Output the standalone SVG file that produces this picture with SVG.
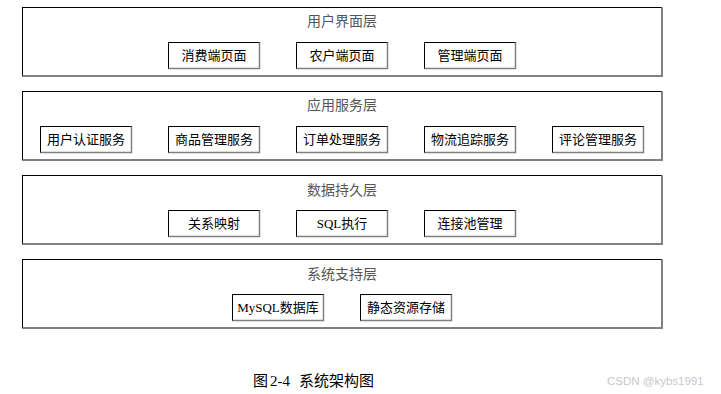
<svg xmlns="http://www.w3.org/2000/svg" width="721" height="394" viewBox="0 0 721 394">
<style>
.layer{fill:#fff;stroke:#000;stroke-width:1}
.shadow{fill:none;stroke:#808080;stroke-width:2}
.box{fill:#fff;stroke:#000;stroke-width:1}
.bshadow{fill:none;stroke:#808080;stroke-width:1.5}
.title{font-family:"Liberation Serif","Noto Sans CJK SC",serif;font-size:14px;fill:#555;text-anchor:middle}
.lbl{font-family:"Liberation Serif","Noto Sans CJK SC",serif;font-size:13px;fill:#000;text-anchor:middle}
.cap{font-family:"Liberation Serif","Noto Sans CJK SC",serif;font-size:15px;fill:#000}
.wm{font-family:"Liberation Sans","Noto Sans CJK SC",sans-serif;font-size:11.5px;fill:#c8c8c8}
</style>
<rect width="721" height="394" fill="#fff"/>
<g id="layer-ui">
<rect class="layer" x="22.5" y="7.5" width="639" height="68.5"/>
<path class="shadow" d="M22.5,76 H662 V7.5"/>
<text class="title" x="342" y="26">用户界面层</text>
</g>
<g id="layer-app">
<rect class="layer" x="22.5" y="91.5" width="639" height="68.5"/>
<path class="shadow" d="M22.5,160 H662 V91.5"/>
<text class="title" x="342" y="110">应用服务层</text>
</g>
<g id="layer-data">
<rect class="layer" x="22.5" y="175.5" width="639" height="68.5"/>
<path class="shadow" d="M22.5,244 H662 V175.5"/>
<text class="title" x="342" y="195">数据持久层</text>
</g>
<g id="layer-sys">
<rect class="layer" x="22.5" y="259.5" width="639" height="68.5"/>
<path class="shadow" d="M22.5,328 H662 V259.5"/>
<text class="title" x="342" y="279">系统支持层</text>
</g>
<g id="n-consumer"><rect class="box" x="168.5" y="42.5" width="91" height="26"/><path class="bshadow" d="M168.5,68.5 H259.5 V42.5"/><text class="lbl" x="214" y="60">消费端页面</text></g>
<g id="n-farmer"><rect class="box" x="296.5" y="42.5" width="91" height="26"/><path class="bshadow" d="M296.5,68.5 H387.5 V42.5"/><text class="lbl" x="342" y="60">农户端页面</text></g>
<g id="n-admin"><rect class="box" x="424.5" y="42.5" width="91" height="26"/><path class="bshadow" d="M424.5,68.5 H515.5 V42.5"/><text class="lbl" x="470" y="60">管理端页面</text></g>
<g id="n-auth"><rect class="box" x="40.5" y="126.5" width="91" height="26"/><path class="bshadow" d="M40.5,152.5 H131.5 V126.5"/><text class="lbl" x="86" y="144">用户认证服务</text></g>
<g id="n-goods"><rect class="box" x="168.5" y="126.5" width="91" height="26"/><path class="bshadow" d="M168.5,152.5 H259.5 V126.5"/><text class="lbl" x="214" y="144">商品管理服务</text></g>
<g id="n-order"><rect class="box" x="296.5" y="126.5" width="91" height="26"/><path class="bshadow" d="M296.5,152.5 H387.5 V126.5"/><text class="lbl" x="342" y="144">订单处理服务</text></g>
<g id="n-logistics"><rect class="box" x="424.5" y="126.5" width="91" height="26"/><path class="bshadow" d="M424.5,152.5 H515.5 V126.5"/><text class="lbl" x="470" y="144">物流追踪服务</text></g>
<g id="n-review"><rect class="box" x="552.5" y="126.5" width="91" height="26"/><path class="bshadow" d="M552.5,152.5 H643.5 V126.5"/><text class="lbl" x="598" y="144">评论管理服务</text></g>
<g id="n-orm"><rect class="box" x="168.5" y="210.5" width="91" height="26"/><path class="bshadow" d="M168.5,236.5 H259.5 V210.5"/><text class="lbl" x="214" y="228">关系映射</text></g>
<g id="n-sql"><rect class="box" x="296.5" y="210.5" width="91" height="26"/><path class="bshadow" d="M296.5,236.5 H387.5 V210.5"/><text class="lbl" x="342" y="228">SQL执行</text></g>
<g id="n-pool"><rect class="box" x="424.5" y="210.5" width="91" height="26"/><path class="bshadow" d="M424.5,236.5 H515.5 V210.5"/><text class="lbl" x="470" y="228">连接池管理</text></g>
<g id="n-mysql"><rect class="box" x="232.5" y="294.5" width="91" height="26"/><path class="bshadow" d="M232.5,320.5 H323.5 V294.5"/><text class="lbl" x="278" y="312">MySQL数据库</text></g>
<g id="n-static"><rect class="box" x="360.5" y="294.5" width="91" height="26"/><path class="bshadow" d="M360.5,320.5 H451.5 V294.5"/><text class="lbl" x="406" y="312">静态资源存储</text></g>
<g id="connectors"></g>
<text class="cap" y="386"><tspan x="253">图</tspan><tspan x="270">2-4</tspan><tspan x="299">系统架构图</tspan></text>
<text class="wm" x="607" y="385">CSDN @kybs1991</text>
</svg>
